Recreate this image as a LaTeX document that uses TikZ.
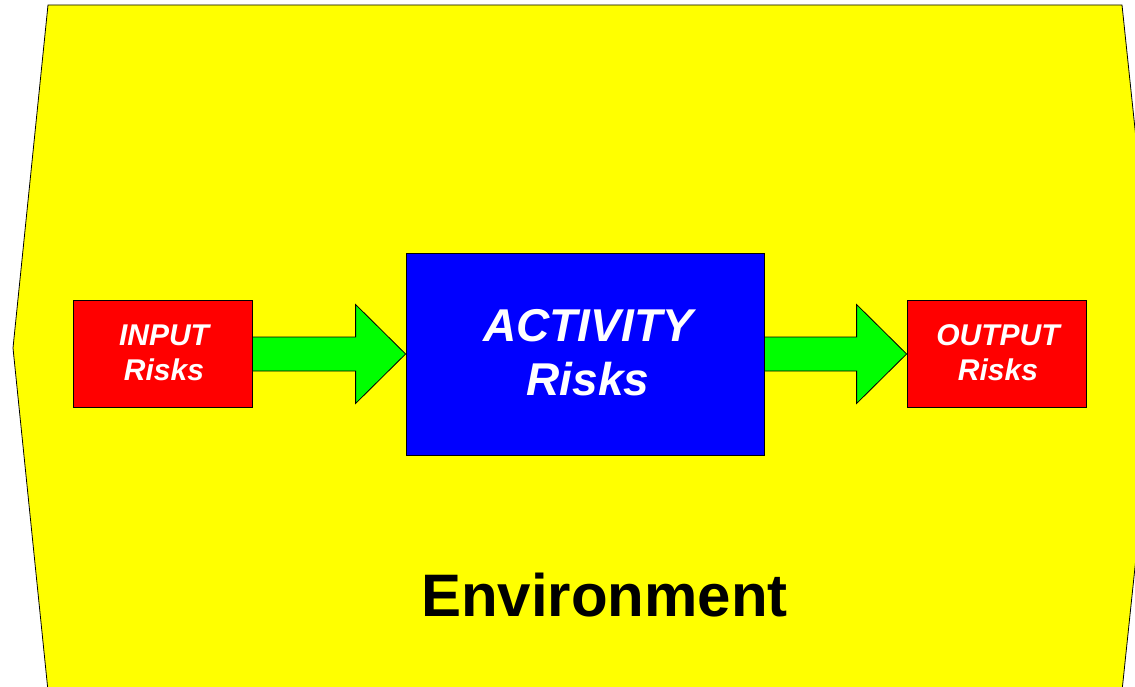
\documentclass[tikz,border=0pt]{standalone}
\usepackage{fontspec}
\setmainfont{Liberation Sans}
\usetikzlibrary{calc}
\definecolor{envyellow}{RGB}{255,255,0}
\definecolor{riskred}{RGB}{255,0,0}
\definecolor{actblue}{RGB}{0,0,255}
\definecolor{flowgreen}{RGB}{0,255,0}
\tikzset{
  edge/.style={draw=black, line width=0.8pt, line join=miter},
  riskbox/.style={edge, fill=riskred, minimum width=179pt, minimum height=107pt, inner sep=0pt},
  actbox/.style={edge, fill=actblue, minimum width=358pt, minimum height=202pt, inner sep=0pt},
  flowarrow/.style={edge, fill=flowgreen},
  smalltxt/.style={anchor=base, text=white, inner sep=0pt, font=\fontsize{30}{36}\selectfont\bfseries\itshape},
  bigtxt/.style={anchor=base, text=white, inner sep=0pt, font=\fontsize{46}{54}\selectfont\bfseries\itshape},
  envtxt/.style={anchor=base, text=black, inner sep=0pt, font=\fontsize{60}{70}\selectfont\bfseries}
}
\begin{document}
\begin{tikzpicture}[x=1pt,y=-1pt]
\path[use as bounding box, clip] (0,0) rectangle (1135,687);
% environment
\draw[edge, fill=envyellow] (48,5) -- (1122,5) -- (1158,348) -- (1122,691) -- (48,691) -- (13,348) -- cycle;
% boxes
\node[riskbox] (inp) at (162.5,354) {};
\node[actbox] (act) at (585,354) {};
\node[riskbox] (out) at (996.5,354) {};
% arrows
\draw[flowarrow] ($(inp.east)+(0,-17)$) -- ($(act.west)+(-50,-17)$) -- ($(act.west)+(-50,-49.5)$) -- (act.west)
  -- ($(act.west)+(-50,49.5)$) -- ($(act.west)+(-50,17)$) -- ($(inp.east)+(0,17)$) -- cycle;
\draw[flowarrow] ($(act.east)+(0,-17)$) -- ($(out.west)+(-50,-17)$) -- ($(out.west)+(-50,-49.5)$) -- (out.west)
  -- ($(out.west)+(-50,49.5)$) -- ($(out.west)+(-50,17)$) -- ($(act.east)+(0,17)$) -- cycle;
% texts
\node[smalltxt] (inp1) at (164,345) {INPUT};
\node[smalltxt] (inp2) at (164,380) {Risks};
\node[bigtxt] (act1) at (588,341.3) {ACTIVITY};
\node[bigtxt] (act2) at (588,395.7) {Risks};
\node[smalltxt] (out1) at (998,345) {OUTPUT};
\node[smalltxt] (out2) at (998,380) {Risks};
\node[envtxt] (env) at (604.5,616.5) {Environment};
\end{tikzpicture}
\end{document}
